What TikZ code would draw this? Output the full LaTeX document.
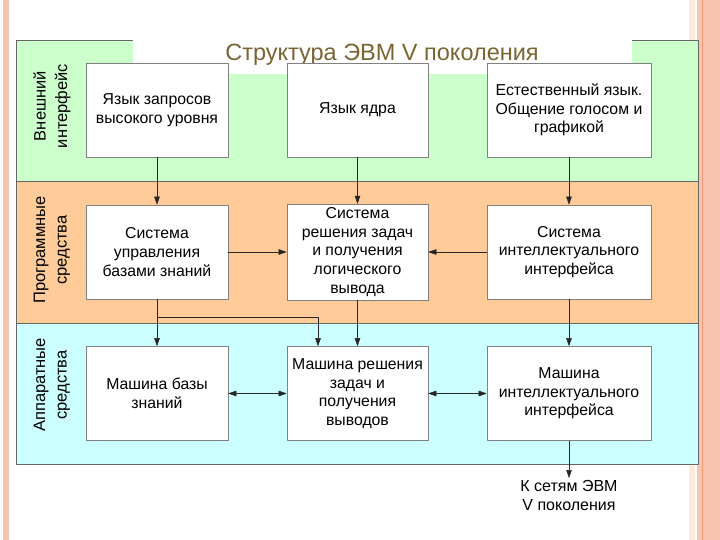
\documentclass[tikz,border=0pt]{standalone}
\usepackage{fontspec}
\setmainfont{Liberation Sans}
\usetikzlibrary{arrows.meta}

\definecolor{bandgreen}{HTML}{CCFFCC}
\definecolor{bandorange}{HTML}{FFCC99}
\definecolor{bandblue}{HTML}{CCFFFF}
\definecolor{titlebrown}{HTML}{7A6432}
\definecolor{salmon}{HTML}{F9C4AE}
\definecolor{salmondark}{HTML}{EE9A78}
\definecolor{cream}{HTML}{FCEBDD}

\tikzset{
  band/.style={draw=black!60, line width=0.6pt},
  box/.style={draw=black!50, fill=white, line width=0.6pt, align=center,
    font=\fontsize{15.8}{18.7}\selectfont},
  lbl/.style={rotate=90, align=center, font=\fontsize{16.5}{21.5}\selectfont},
  arr/.style={-{Triangle[length=8pt,width=5.5pt]}, draw=black!85, line width=0.5pt},
  darr/.style={{Triangle[length=8pt,width=5.5pt]}-{Triangle[length=8pt,width=5.5pt]}, draw=black!85, line width=0.5pt}
}

\begin{document}
\begin{tikzpicture}[x=1pt,y=-1pt,line join=round]
  \useasboundingbox (0,0) rectangle (720,540);
  % slide edges
  \fill[salmon] (3,0) rectangle (9,540);
  \fill[cream] (689,0) rectangle (695,540);
  \fill[salmon] (697,0) rectangle (720,540);
  \draw[salmondark, line width=1pt] (702,0) -- (702,540);
  % bands
  \filldraw[band, fill=bandgreen] (16,40) rectangle (698,181);
  \filldraw[band, fill=bandorange] (16,181) rectangle (698,323);
  \filldraw[band, fill=bandblue] (16,323) rectangle (698,464);
  \fill[white] (133,39) rectangle (632,74);
  \node[text=titlebrown, font=\fontsize{23.5}{26}\selectfont] (title) at (382,55) {Структура ЭВМ V поколения};
  \node[lbl] (ext) at (52,106) {Внешний\\интерфейс};
  \node[lbl] (soft) at (52,250) {Программные\\средства};
  \node[lbl] (hard) at (52,385) {Аппаратные\\средства};
  % row 1
  \node[box, minimum width=142, minimum height=94] (b11) at (157,110) {Язык запросов\\высокого уровня};
  \node[box, minimum width=141, minimum height=94] (b12) at (357.5,110) {Язык ядра};
  \node[box, minimum width=164, minimum height=94] (b13) at (569,110) {Естественный язык.\\Общение голосом и\\графикой};
  % row 2
  \node[box, minimum width=142, minimum height=94] (b21) at (157,252) {Система\\управления\\базами знаний};
  \node[box, minimum width=141, minimum height=94] (b22) at (357.5,252) {Система\\решения задач\\и получения\\логического\\вывода};
  \node[box, minimum width=164, minimum height=94] (b23) at (569,252) {Система\\интеллектуального\\интерфейса};
  % row 3
  \node[box, minimum width=142, minimum height=94] (b31) at (157,393.5) {Машина базы\\знаний};
  \node[box, minimum width=141, minimum height=94] (b32) at (357.5,393.5) {Машина решения\\задач и\\получения\\выводов};
  \node[box, minimum width=164, minimum height=94] (b33) at (569,393.5) {Машина\\интеллектуального\\интерфейса};
  \node[align=center, anchor=north, inner sep=2pt, font=\fontsize{16}{19.5}\selectfont] (net) at (569,478) {К сетям ЭВМ\\V поколения};
  % connectors
  \draw[arr] (b11) -- (b21);
  \draw[arr] (b12) -- (b22);
  \draw[arr] (b13) -- (b23);
  \draw[arr] (b21) -- (b22);
  \draw[arr] (b23) -- (b22);
  \draw[arr] (b21) -- (b31);
  \draw[arr] (b22) -- (b32);
  \draw[arr] (b23) -- (b33);
  \coordinate (split) at (157,317);
  \coordinate (splitr) at (318,317);
  \draw[arr] (split) -- (splitr) -- (splitr |- b32.north);
  \draw[darr] (b31) -- (b32);
  \draw[darr] (b32) -- (b33);
  \draw[arr] (b33) -- (net);
\end{tikzpicture}
\end{document}
